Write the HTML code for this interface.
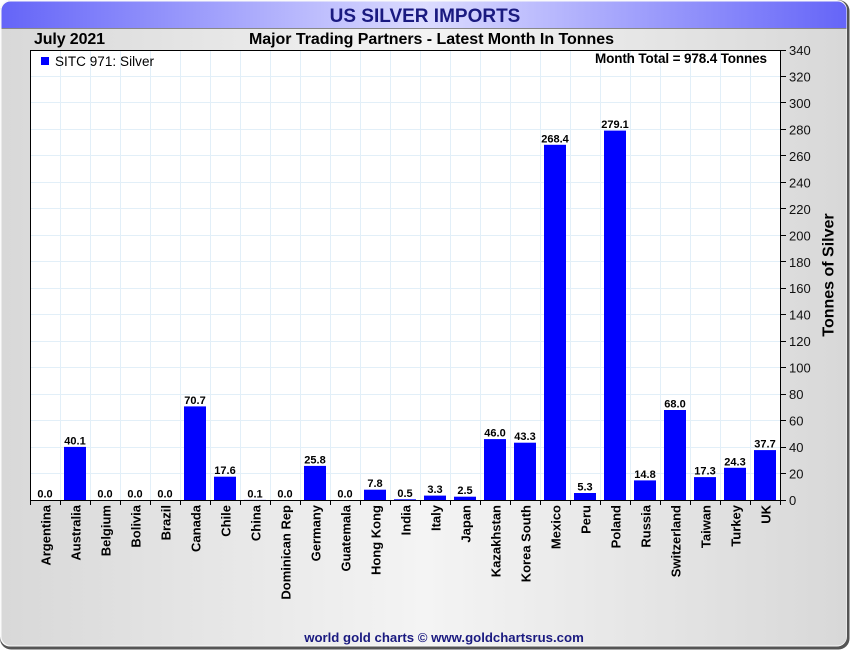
<!DOCTYPE html>
<html><head><meta charset="utf-8"><style>
html,body{margin:0;padding:0;background:#fff;}
svg{display:block;font-family:"Liberation Sans",Arial,sans-serif;}
</style></head><body>
<svg width="850" height="650" viewBox="0 0 850 650" xmlns="http://www.w3.org/2000/svg">
<defs>
<linearGradient id="bg" x1="0" y1="0" x2="1" y2="0">
<stop offset="0" stop-color="#d8d8d8"/><stop offset="0.5" stop-color="#f4f4f4"/><stop offset="1" stop-color="#d8d8d8"/>
</linearGradient>
<linearGradient id="tb" x1="0" y1="0" x2="1" y2="0">
<stop offset="0" stop-color="#6464f8"/><stop offset="0.5" stop-color="#dcdcff"/><stop offset="1" stop-color="#6464f8"/>
</linearGradient>
<clipPath id="frame"><rect x="1.5" y="1.5" width="845" height="644" rx="9"/></clipPath>
</defs>
<rect x="0" y="0" width="849.5" height="649.5" rx="11" fill="#555"/>
<rect x="0" y="0" width="847" height="646.5" rx="10" fill="#fafafa"/>
<rect x="1.5" y="1.5" width="845" height="644" rx="9" fill="url(#bg)"/>
<g clip-path="url(#frame)">
<rect x="0" y="0" width="850" height="28" fill="url(#tb)"/>
<line x1="0" y1="28.5" x2="850" y2="28.5" stroke="#888" stroke-width="1"/>
</g>
<text x="425" y="22" text-anchor="middle" font-size="19" font-weight="bold" fill="#1a1a80">US SILVER IMPORTS</text>
<text x="34" y="44" font-size="16" font-weight="bold" fill="#000" textLength="71">July 2021</text>
<text x="431.5" y="44" text-anchor="middle" font-size="16" font-weight="bold" fill="#000" textLength="365">Major Trading Partners - Latest Month In Tonnes</text>

<!-- plot area -->
<rect x="30" y="50" width="750" height="450" fill="#fff"/>
<g stroke="#e2eff8" stroke-width="1">
<line x1="60.5" y1="50" x2="60.5" y2="500"/><line x1="90.5" y1="50" x2="90.5" y2="500"/><line x1="120.5" y1="50" x2="120.5" y2="500"/><line x1="150.5" y1="50" x2="150.5" y2="500"/><line x1="180.5" y1="50" x2="180.5" y2="500"/><line x1="210.5" y1="50" x2="210.5" y2="500"/><line x1="240.5" y1="50" x2="240.5" y2="500"/><line x1="270.5" y1="50" x2="270.5" y2="500"/><line x1="300.5" y1="50" x2="300.5" y2="500"/><line x1="330.5" y1="50" x2="330.5" y2="500"/><line x1="360.5" y1="50" x2="360.5" y2="500"/><line x1="390.5" y1="50" x2="390.5" y2="500"/><line x1="420.5" y1="50" x2="420.5" y2="500"/><line x1="450.5" y1="50" x2="450.5" y2="500"/><line x1="480.5" y1="50" x2="480.5" y2="500"/><line x1="510.5" y1="50" x2="510.5" y2="500"/><line x1="540.5" y1="50" x2="540.5" y2="500"/><line x1="570.5" y1="50" x2="570.5" y2="500"/><line x1="600.5" y1="50" x2="600.5" y2="500"/><line x1="630.5" y1="50" x2="630.5" y2="500"/><line x1="660.5" y1="50" x2="660.5" y2="500"/><line x1="690.5" y1="50" x2="690.5" y2="500"/><line x1="720.5" y1="50" x2="720.5" y2="500"/><line x1="750.5" y1="50" x2="750.5" y2="500"/>
<line x1="30" y1="473.5" x2="780" y2="473.5"/><line x1="30" y1="447.5" x2="780" y2="447.5"/><line x1="30" y1="420.5" x2="780" y2="420.5"/><line x1="30" y1="394.5" x2="780" y2="394.5"/><line x1="30" y1="367.5" x2="780" y2="367.5"/><line x1="30" y1="341.5" x2="780" y2="341.5"/><line x1="30" y1="314.5" x2="780" y2="314.5"/><line x1="30" y1="288.5" x2="780" y2="288.5"/><line x1="30" y1="261.5" x2="780" y2="261.5"/><line x1="30" y1="235.5" x2="780" y2="235.5"/><line x1="30" y1="208.5" x2="780" y2="208.5"/><line x1="30" y1="182.5" x2="780" y2="182.5"/><line x1="30" y1="155.5" x2="780" y2="155.5"/><line x1="30" y1="129.5" x2="780" y2="129.5"/><line x1="30" y1="102.5" x2="780" y2="102.5"/><line x1="30" y1="76.5" x2="780" y2="76.5"/>
</g>

<!-- bars -->
<g fill="#0000ff">
<rect x="64" y="446.9" width="22" height="53.1"/>
<rect x="184" y="406.4" width="22" height="93.6"/>
<rect x="214" y="476.7" width="22" height="23.3"/>
<rect x="244" y="499.9" width="22" height="0.4"/>
<rect x="304" y="465.9" width="22" height="34.1"/>
<rect x="364" y="489.7" width="22" height="10.3"/>
<rect x="394" y="499.3" width="22" height="0.7"/>
<rect x="424" y="495.6" width="22" height="4.4"/>
<rect x="454" y="496.7" width="22" height="3.3"/>
<rect x="484" y="439.1" width="22" height="60.9"/>
<rect x="514" y="442.7" width="22" height="57.3"/>
<rect x="544" y="144.8" width="22" height="355.2"/>
<rect x="574" y="493" width="22" height="7"/>
<rect x="604" y="130.6" width="22" height="369.4"/>
<rect x="634" y="480.4" width="22" height="19.6"/>
<rect x="664" y="410" width="22" height="90"/>
<rect x="694" y="477.1" width="22" height="22.9"/>
<rect x="724" y="467.8" width="22" height="32.2"/>
<rect x="754" y="450.1" width="22" height="49.9"/>
</g>

<!-- value labels -->
<g font-size="11" font-weight="bold" fill="#000" text-anchor="middle">
<text x="45" y="497.5">0.0</text>
<text x="75" y="444.4">40.1</text>
<text x="105" y="497.5">0.0</text>
<text x="135" y="497.5">0.0</text>
<text x="165" y="497.5">0.0</text>
<text x="195" y="403.9">70.7</text>
<text x="225" y="474.2">17.6</text>
<text x="255" y="497.4">0.1</text>
<text x="285" y="497.5">0.0</text>
<text x="315" y="463.4">25.8</text>
<text x="345" y="497.5">0.0</text>
<text x="375" y="487.2">7.8</text>
<text x="405" y="496.8">0.5</text>
<text x="435" y="493.1">3.3</text>
<text x="465" y="494.2">2.5</text>
<text x="495" y="436.6">46.0</text>
<text x="525" y="440.2">43.3</text>
<text x="555" y="142.3">268.4</text>
<text x="585" y="490.5">5.3</text>
<text x="615" y="128.1">279.1</text>
<text x="645" y="477.9">14.8</text>
<text x="675" y="407.5">68.0</text>
<text x="705" y="474.6">17.3</text>
<text x="735" y="465.3">24.3</text>
<text x="765" y="447.6">37.7</text>
</g>

<!-- axes -->
<g stroke="#000" stroke-width="1" fill="none">
<line x1="30.5" y1="50" x2="30.5" y2="500"/>
<line x1="30" y1="50.5" x2="780" y2="50.5"/>
<line x1="30" y1="500.5" x2="786" y2="500.5"/>
<line x1="780.5" y1="50" x2="780.5" y2="501"/>
</g>
<g stroke="#000" stroke-width="1">
<line x1="30.5" y1="500" x2="30.5" y2="505"/><line x1="60.5" y1="500" x2="60.5" y2="505"/><line x1="90.5" y1="500" x2="90.5" y2="505"/><line x1="120.5" y1="500" x2="120.5" y2="505"/><line x1="150.5" y1="500" x2="150.5" y2="505"/><line x1="180.5" y1="500" x2="180.5" y2="505"/><line x1="210.5" y1="500" x2="210.5" y2="505"/><line x1="240.5" y1="500" x2="240.5" y2="505"/><line x1="270.5" y1="500" x2="270.5" y2="505"/><line x1="300.5" y1="500" x2="300.5" y2="505"/><line x1="330.5" y1="500" x2="330.5" y2="505"/><line x1="360.5" y1="500" x2="360.5" y2="505"/><line x1="390.5" y1="500" x2="390.5" y2="505"/><line x1="420.5" y1="500" x2="420.5" y2="505"/><line x1="450.5" y1="500" x2="450.5" y2="505"/><line x1="480.5" y1="500" x2="480.5" y2="505"/><line x1="510.5" y1="500" x2="510.5" y2="505"/><line x1="540.5" y1="500" x2="540.5" y2="505"/><line x1="570.5" y1="500" x2="570.5" y2="505"/><line x1="600.5" y1="500" x2="600.5" y2="505"/><line x1="630.5" y1="500" x2="630.5" y2="505"/><line x1="660.5" y1="500" x2="660.5" y2="505"/><line x1="690.5" y1="500" x2="690.5" y2="505"/><line x1="720.5" y1="500" x2="720.5" y2="505"/><line x1="750.5" y1="500" x2="750.5" y2="505"/><line x1="780.5" y1="500" x2="780.5" y2="505"/>
<line x1="780" y1="500.5" x2="786" y2="500.5"/><line x1="780" y1="473.5" x2="786" y2="473.5"/><line x1="780" y1="447.5" x2="786" y2="447.5"/><line x1="780" y1="420.5" x2="786" y2="420.5"/><line x1="780" y1="394.5" x2="786" y2="394.5"/><line x1="780" y1="367.5" x2="786" y2="367.5"/><line x1="780" y1="341.5" x2="786" y2="341.5"/><line x1="780" y1="314.5" x2="786" y2="314.5"/><line x1="780" y1="288.5" x2="786" y2="288.5"/><line x1="780" y1="261.5" x2="786" y2="261.5"/><line x1="780" y1="235.5" x2="786" y2="235.5"/><line x1="780" y1="208.5" x2="786" y2="208.5"/><line x1="780" y1="182.5" x2="786" y2="182.5"/><line x1="780" y1="155.5" x2="786" y2="155.5"/><line x1="780" y1="129.5" x2="786" y2="129.5"/><line x1="780" y1="102.5" x2="786" y2="102.5"/><line x1="780" y1="76.5" x2="786" y2="76.5"/><line x1="780" y1="50.5" x2="786" y2="50.5"/>
</g>

<!-- y tick labels -->
<g font-size="13" fill="#111">
<text x="789" y="505">0</text>
<text x="789" y="478.5">20</text>
<text x="789" y="452">40</text>
<text x="789" y="425.6">60</text>
<text x="789" y="399.1">80</text>
<text x="789" y="372.6">100</text>
<text x="789" y="346.2">120</text>
<text x="789" y="319.7">140</text>
<text x="789" y="293.2">160</text>
<text x="789" y="266.8">180</text>
<text x="789" y="240.3">200</text>
<text x="789" y="213.8">220</text>
<text x="789" y="187.4">240</text>
<text x="789" y="160.9">260</text>
<text x="789" y="134.4">280</text>
<text x="789" y="107.9">300</text>
<text x="789" y="81.5">320</text>
<text x="789" y="55">340</text>
</g>
<text transform="translate(833.5,275) rotate(-90)" text-anchor="middle" font-size="16" font-weight="bold" fill="#000">Tonnes of Silver</text>

<!-- x labels -->
<g font-size="13" font-weight="bold" fill="#000" text-anchor="end">
<text transform="translate(50.5,505) rotate(-90)">Argentina</text>
<text transform="translate(80.5,505) rotate(-90)">Australia</text>
<text transform="translate(110.5,505) rotate(-90)">Belgium</text>
<text transform="translate(140.5,505) rotate(-90)">Bolivia</text>
<text transform="translate(170.5,505) rotate(-90)">Brazil</text>
<text transform="translate(200.5,505) rotate(-90)">Canada</text>
<text transform="translate(230.5,505) rotate(-90)">Chile</text>
<text transform="translate(260.5,505) rotate(-90)">China</text>
<text transform="translate(290.5,505) rotate(-90)">Dominican Rep</text>
<text transform="translate(320.5,505) rotate(-90)">Germany</text>
<text transform="translate(350.5,505) rotate(-90)">Guatemala</text>
<text transform="translate(380.5,505) rotate(-90)">Hong Kong</text>
<text transform="translate(410.5,505) rotate(-90)">India</text>
<text transform="translate(440.5,505) rotate(-90)">Italy</text>
<text transform="translate(470.5,505) rotate(-90)">Japan</text>
<text transform="translate(500.5,505) rotate(-90)">Kazakhstan</text>
<text transform="translate(530.5,505) rotate(-90)">Korea South</text>
<text transform="translate(560.5,505) rotate(-90)">Mexico</text>
<text transform="translate(590.5,505) rotate(-90)">Peru</text>
<text transform="translate(620.5,505) rotate(-90)">Poland</text>
<text transform="translate(650.5,505) rotate(-90)">Russia</text>
<text transform="translate(680.5,505) rotate(-90)">Switzerland</text>
<text transform="translate(710.5,505) rotate(-90)">Taiwan</text>
<text transform="translate(740.5,505) rotate(-90)">Turkey</text>
<text transform="translate(770.5,505) rotate(-90)">UK</text>
</g>

<!-- legend & total -->
<rect x="41" y="57" width="8" height="8" fill="#0000ff"/>
<text x="55" y="66" font-size="13.5" fill="#000" textLength="99">SITC 971: Silver</text>
<text x="767" y="63" text-anchor="end" font-size="13.5" font-weight="bold" fill="#000" textLength="172">Month Total = 978.4 Tonnes</text>

<!-- footer -->
<text x="444" y="642" text-anchor="middle" font-size="13.2" font-weight="bold" fill="#1a1a80">world gold charts © www.goldchartsrus.com</text>
</svg>
</body></html>
